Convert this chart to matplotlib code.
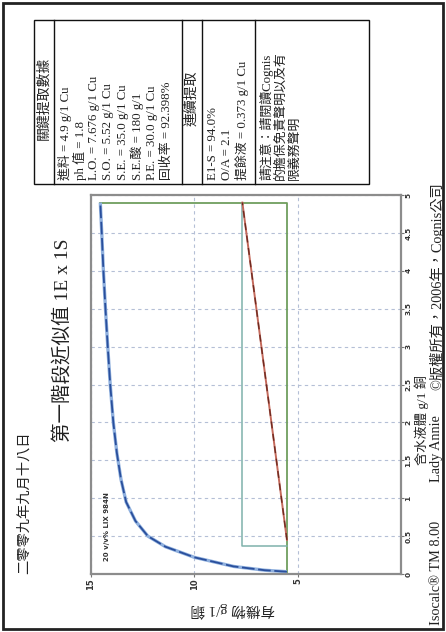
import matplotlib
matplotlib.use("Agg")
import matplotlib.pyplot as plt
from matplotlib.patches import Rectangle
from matplotlib.lines import Line2D

# ---------------- data ----------------
# equilibrium isotherm (aqueous Cu g/l, organic Cu g/l)
iso_aq = [0.03, 0.05, 0.10, 0.22, 0.36, 0.50, 0.70, 0.95, 1.25, 1.60, 2.00, 2.50, 3.00, 3.50, 4.00, 4.50, 4.90]
iso_org = [5.52, 6.60, 8.10, 10.00, 11.40, 12.25, 12.85, 13.30, 13.55, 13.75, 13.92, 14.07, 14.19, 14.30, 14.40, 14.48, 14.55]

feed_aq = 4.9          # 進料
so_org = 5.52          # S.O.
lo_org = 7.676         # L.O.
raff_aq = 0.373        # 提餘液
op_line_aq = [0.45, 4.9]
op_line_org = [5.52, 7.676]

x_ticks = [5, 10, 15]
x_tick_labels = ["5", "10", "15"]
y_ticks = [0, 0.5, 1, 1.5, 2, 2.5, 3, 3.5, 4, 4.5, 5]
y_tick_labels = ["0", "0.5", "1", "1.5", "2", "2.5", "3", "3.5", "4", "4.5", "5"]

date_text = "二零零九年九月十八日"
title_text = "第一階段近似值 1E x 1S"
org_label = "有機物 g/1 銅"
aq_label = "含水液體 g/1 銅"
extractant = "20 v/v% LIX 984N"
footer_texts = ["Isocalc® TM 8.00", "Lady Annie", "©版權所有，2006年，Cognis公司"]

sec1_header = "關鍵提取數據"
sec1_lines = ["進料 = 4.9 g/1 Cu", "ph 值 = 1.8", "L.O. = 7.676 g/1 Cu", "S.O. = 5.52 g/1 Cu",
              "S.E. = 35.0 g/1 Cu", "S.E.酸 = 180 g/1", "P.E. = 30.0 g/1 Cu", "回收率 = 92.398%"]
sec2_header = "連續提取"
sec2_lines = ["E1-S = 94.0%", "O/A = 2.1", "提餘液 = 0.373 g/1 Cu"]
sec3_lines = ["請注意：請閱讀Cognis", "的擔保免責聲明以及有", "限義務聲明"]

# ---------------- layout helpers ----------------
W, H = 446, 632
def fx(px):
    return px / W
def fy(py):
    return 1 - py / H

SERIF = ["Liberation Serif", "Noto Sans CJK TC", "DejaVu Sans"]
CJK = ["Noto Sans CJK TC", "DejaVu Sans"]
TXT = "#222222"

fig = plt.figure(figsize=(W / 100, H / 100), dpi=100)
fig.patch.set_facecolor("white")

# outer border
fig.add_artist(Rectangle((fx(3), fy(629)), fx(440), 626 / H, transform=fig.transFigure,
                         fill=False, lw=2.0, ec="#222222"))

# ---------------- plot (rotated chart) ----------------
ax = fig.add_axes([fx(91), fy(574), (401 - 91) / W, (574 - 195) / H])
ax.set_xlim(15, 0)
ax.set_ylim(0, 5)
ax.set_xticks(x_ticks)
ax.set_xticklabels(x_tick_labels, rotation=90, fontsize=6, fontweight="bold", color="#333333")
ax.yaxis.tick_right()
ax.set_yticks(y_ticks)
ax.set_yticklabels(y_tick_labels, rotation=90, fontsize=5.3, fontweight="bold", color="#333333", va="center")
ax.tick_params(axis="both", length=2.0, width=0.8, color="#777777", pad=1.0)
for sp in ax.spines.values():
    sp.set_color("#8c8c8c")
    sp.set_linewidth(1.6)
ax.grid(True, linestyle=(0, (3, 3)), color="#b4bfd6", lw=0.8)
ax.set_axisbelow(True)

# green: stripped organic line and feed line
ax.plot([so_org, so_org, iso_org[-1]], [0, feed_aq, feed_aq], color="#6f9e5e", lw=1.3)
# teal: stage step
ax.plot([lo_org, lo_org, so_org], [feed_aq, raff_aq, raff_aq], color="#7fb2ab", lw=1.1)
# red: operating line
ax.plot(op_line_org, op_line_aq, color="#c46a5c", lw=1.4)
ax.plot(op_line_org, op_line_aq, color="#6e2a20", lw=1.0, linestyle=(0, (5, 4)))
# blue: isotherm
ax.plot(iso_org, iso_aq, color="#8fb0de", lw=2.4, solid_capstyle="butt")
ax.plot(iso_org, iso_aq, color="#2a4f9c", lw=1.3, linestyle=(0, (7, 2)))

ax.text(0.052, 0.035, extractant, transform=ax.transAxes, rotation=90, ha="center", va="bottom",
        fontsize=5, fontweight="bold", color="#333333", family="DejaVu Sans")

# axis labels
fig.text(fx(233), fy(610), org_label, rotation=180, ha="center", va="center", fontsize=10.5,
         family=SERIF, color=TXT)
fig.text(fx(421.5), fy(420), aq_label, rotation=90, ha="center", va="center", fontsize=9.5,
         family=SERIF, color=TXT)

# titles
fig.text(fx(24), fy(574), date_text, rotation=90, ha="center", va="bottom", fontsize=10.3,
         family=CJK, color=TXT)
fig.text(fx(62), fy(442), title_text, rotation=90, ha="center", va="bottom", fontsize=14,
         family=SERIF, color=TXT)

# footer
fx_foot = 436.5
fig.text(fx(fx_foot), fy(625), footer_texts[0], rotation=90, ha="center", va="bottom", fontsize=10.3,
         family=SERIF, color=TXT)
fig.text(fx(fx_foot), fy(482), footer_texts[1], rotation=90, ha="center", va="bottom", fontsize=10.3,
         family=SERIF, color=TXT)
fig.text(fx(fx_foot), fy(390), footer_texts[2], rotation=90, ha="center", va="bottom", fontsize=10.3,
         family=SERIF, color=TXT)

# ---------------- table ----------------
t_left, t_right, t_top, t_bot = 34, 369, 20, 184
fig.add_artist(Rectangle((fx(t_left), fy(t_bot)), (t_right - t_left) / W, (t_bot - t_top) / H,
                         transform=fig.transFigure, fill=False, lw=1.0, ec="#111111"))
for sx in [54, 182, 202, 255]:
    fig.add_artist(Line2D([fx(sx), fx(sx)], [fy(t_top), fy(t_bot)], transform=fig.transFigure,
                          lw=1.0, color="#111111"))

mid_y = (t_top + t_bot) / 2
fig.text(fx(44), fy(mid_y - 4), sec1_header, rotation=90, ha="center", va="center", fontsize=10,
         family=SERIF, color=TXT)
fig.text(fx(192), fy(mid_y - 4), sec2_header, rotation=90, ha="center", va="center", fontsize=10,
         family=SERIF, color=TXT)

sp = 14.5
fs_tab = 9.3
for i, s in enumerate(sec1_lines):
    fig.text(fx(65 + i * sp), fy(180), s, rotation=90, ha="center", va="bottom", fontsize=fs_tab,
             family=SERIF, color=TXT)
for i, s in enumerate(sec2_lines):
    fig.text(fx(213 + i * sp), fy(180), s, rotation=90, ha="center", va="bottom", fontsize=fs_tab,
             family=SERIF, color=TXT)
for i, s in enumerate(sec3_lines):
    fig.text(fx(266 + i * sp), fy(180), s, rotation=90, ha="center", va="bottom", fontsize=fs_tab,
             family=SERIF, color=TXT)

fig.savefig("out.png", dpi=100)
